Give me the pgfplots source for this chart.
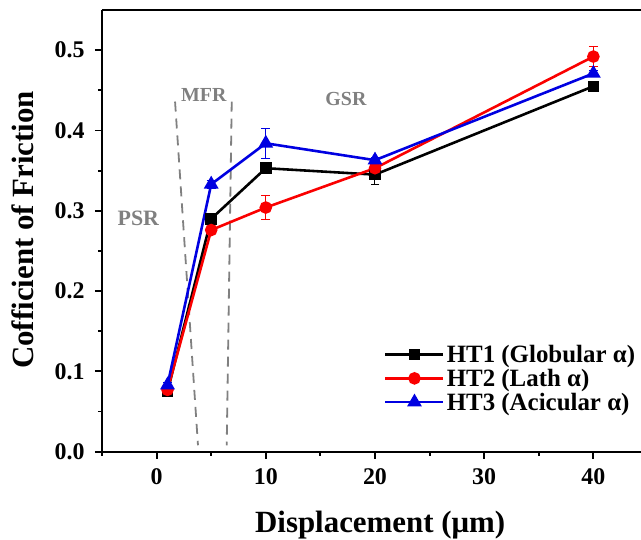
\documentclass[border=0pt]{standalone}
\usepackage{fontspec}
\setmainfont{Liberation Serif}
\usepackage{pgfplots}
\usepackage{pgfplotstable}
\pgfplotsset{compat=1.18}

\definecolor{htred}{RGB}{250,0,0}
\definecolor{htblue}{RGB}{0,0,225}
\definecolor{regiongray}{RGB}{128,128,128}

% displacement (um), coefficient of friction, standard deviation
\pgfplotstableread{
x    y      e
1    0.075  0.003
5    0.290  0.006
10   0.353  0.004
20   0.345  0.012
40   0.455  0.003
}\htone
\pgfplotstableread{
x    y      e
1    0.077  0.003
5    0.276  0.004
10   0.304  0.015
20   0.353  0.004
40   0.492  0.012
}\httwo
\pgfplotstableread{
x    y      e
1    0.083  0.003
5    0.333  0.005
10   0.384  0.019
20   0.363  0.003
40   0.471  0.004
}\htthree

\pgfplotsset{
  errstyle/.style={
    error bars/y dir=both,
    error bars/y explicit,
    error bars/error bar style={line width=1pt, #1},
    error bars/error mark options={rotate=90, mark size=4.5pt, line width=1pt, #1},
  },
}

\begin{document}
\begin{tikzpicture}
\begin{axis}[
  name=ax,
  scale only axis,
  width=539bp, height=441.7bp,
  xmin=-5, xmax=44.36,
  ymin=0, ymax=0.55,
  axis x line=box,
  axis y line*=left,
  axis line style={line width=1.9pt},
  xtick={0,10,20,30,40},
  minor xtick={-5,5,15,25,35},
  ytick={0,0.1,0.2,0.3,0.4,0.5},
  minor ytick={0.05,0.15,0.25,0.35,0.45},
  xtick pos=bottom, ytick pos=left,
  tick align=outside,
  major tick length=7bp, minor tick length=4bp,
  every tick/.style={black, line width=1.9pt},
  /pgf/number format/assume math mode=true,
  yticklabel style={/pgf/number format/fixed, /pgf/number format/fixed zerofill,
    /pgf/number format/precision=1, xshift=-7bp},
  xticklabel style={yshift=-6bp},
  ticklabel style={font=\fontsize{24}{28}\selectfont\bfseries},
  every axis x label/.style={at={(axis description cs:0.516,-0.184)}, anchor=base},
  every axis y label/.style={at={(axis description cs:-0.128,0.502)}, rotate=90, anchor=base},
  label style={font=\fontsize{31}{36}\selectfont\bfseries},
  xlabel={Displacement (μm)},
  ylabel={Cofficient of Friction},
  legend style={at={(axis description cs:0.993,0.246)}, anchor=north east,
    draw=none, fill=none, font=\fontsize{25}{30}\selectfont\bfseries,
    row sep=1bp, inner sep=0pt},
  legend cell align=left,
  legend image code/.code={%
    \draw[mark repeat=2,mark phase=2] plot coordinates {(0bp,0bp) (29bp,0bp) (58bp,0bp)};},
]
% mixed fretting regime boundaries
\addplot[regiongray, line width=1.8pt, dash pattern=on 10bp off 7bp, forget plot]
  coordinates {(1.69,0.436) (3.79,0.008)};
\addplot[regiongray, line width=1.8pt, dash pattern=on 10bp off 7bp, forget plot]
  coordinates {(6.88,0.436) (6.42,0.008)};

\addplot[black, line width=2.6pt, mark=square*, mark size=4.5pt, errstyle=black]
  table[x=x, y=y, y error=e] {\htone};
\addlegendentry{HT1 (Globular α)}

\addplot[htred, line width=2.6pt, mark=*, mark size=5pt, errstyle=htred]
  table[x=x, y=y, y error=e] {\httwo};
\addlegendentry{HT2 (Lath α)}

\addplot[htblue, line width=2.6pt, mark=triangle*, mark size=6pt, errstyle=htblue]
  table[x=x, y=y, y error=e] {\htthree};
\addlegendentry{HT3 (Acicular α)}

\node[text=regiongray, font=\fontsize{22}{26}\selectfont\bfseries] at (axis cs:-1.67,0.2905) {PSR};
\node[text=regiongray, font=\fontsize{20}{24}\selectfont\bfseries] at (axis cs:4.32,0.444) {MFR};
\node[text=regiongray, font=\fontsize{20}{24}\selectfont\bfseries] at (axis cs:17.34,0.439) {GSR};
\end{axis}
\pgfresetboundingbox
\path[use as bounding box] ([xshift=-102bp,yshift=-88.3bp]ax.south west) rectangle ([xshift=539bp,yshift=10bp]ax.north west);
\end{tikzpicture}
\end{document}
